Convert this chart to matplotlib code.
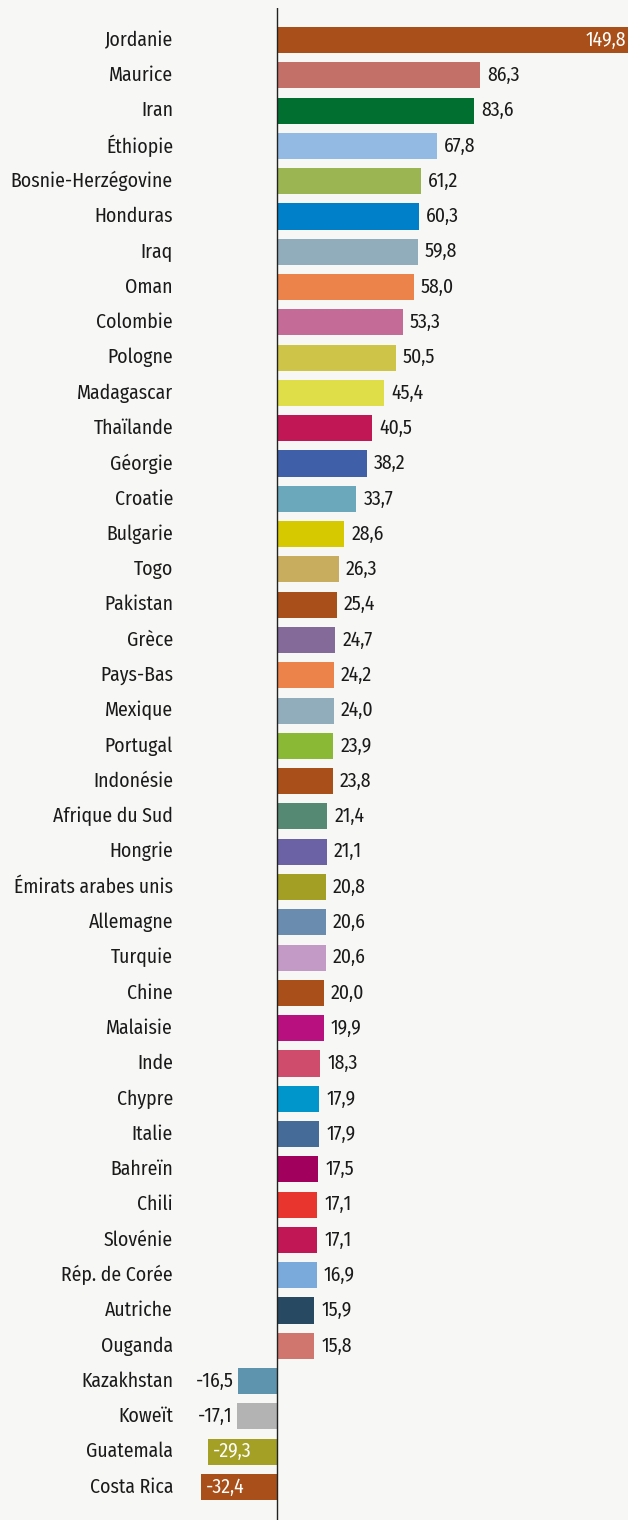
import matplotlib
matplotlib.use("Agg")
import matplotlib.pyplot as plt
from matplotlib import font_manager
import numpy as np

# ----------------------------------------------------------------------------------------------------------------------
#  DATA
# ----------------------------------------------------------------------------------------------------------------------
countries = ["Jordanie", "Maurice", "Iran", "Éthiopie", "Bosnie-Herzégovine", "Honduras", "Iraq", "Oman",
             "Colombie", "Pologne", "Madagascar", "Thaïlande", "Géorgie", "Croatie", "Bulgarie", "Togo",
             "Pakistan", "Grèce", "Pays-Bas", "Mexique", "Portugal", "Indonésie", "Afrique du Sud", "Hongrie",
             "Émirats arabes unis", "Allemagne", "Turquie", "Chine", "Malaisie", "Inde", "Chypre", "Italie",
             "Bahreïn", "Chili", "Slovénie", "Rép. de Corée", "Autriche", "Ouganda", "Kazakhstan", "Koweït",
             "Guatemala", "Costa Rica"]
values = [149.8, 86.3, 83.6, 67.8, 61.2, 60.3, 59.8, 58.0, 53.3, 50.5, 45.4, 40.5, 38.2, 33.7, 28.6, 26.3,
          25.4, 24.7, 24.2, 24.0, 23.9, 23.8, 21.4, 21.1, 20.8, 20.6, 20.6, 20.0, 19.9, 18.3, 17.9, 17.9,
          17.5, 17.1, 17.1, 16.9, 15.9, 15.8, -16.5, -17.1, -29.3, -32.4]
colors = ["#a94f19", "#c27068", "#006f2f", "#92bae3", "#9bb553", "#0080c8", "#91adbb", "#eb834a",
          "#c56b98", "#cdc448", "#dfde48", "#c21755", "#3f5fa8", "#6ba8bc", "#d6c900", "#c8ad5e",
          "#a94f19", "#836a99", "#eb834a", "#91adbb", "#8ab936", "#a94f19", "#568974", "#6b62a5",
          "#a39f25", "#6a8daf", "#c399c6", "#a94f19", "#b8107e", "#d04c6c", "#0096cc", "#456c98",
          "#a1005d", "#e8352d", "#c21755", "#7aaadc", "#274a62", "#d0766e", "#5e94ad", "#b3b3b3",
          "#a3a025", "#a94f19"]
# values written inside the bar (white)
inside = ["Jordanie", "Guatemala", "Costa Rica"]

# pick a Myriad-condensed-like sans that is installed
available = {f.name for f in font_manager.fontManager.ttflist}
wanted = ["Fira Sans Condensed", "Roboto Condensed", "Asap Condensed", "PT Sans Narrow"]
family = [f for f in wanted if f in available][:1] + ["DejaVu Sans"]
plt.rcParams['font.family'] = family

bg_color = "#f7f7f5"
fig = plt.figure(figsize=(6.28, 15.2), dpi=100, facecolor=bg_color)
ax = fig.add_axes([0, 0, 1, 1512 / 1520])
ax.set_facecolor(bg_color)

row = 35.3  # pixels per row
y = np.arange(len(countries))
ax.barh(y, values, height=0.74, color=colors, zorder=2)
ax.axvline(0, color="#222222", linewidth=1.0, zorder=3)

px = 1 / 2.355  # data units per pixel horizontally
font_size = 14.2
for i, (name, val) in enumerate(zip(countries, values)):
    ax.text(-104 * px, i, name, ha="right", va="center", fontsize=font_size, color="#1a1a1a")
    label = f"{val:.1f}".replace(".", ",")
    if name in inside:
        if val > 0:
            ax.text(val - 4 * px, i, label, ha="right", va="center", fontsize=font_size, color="white", zorder=4)
        else:
            ax.text(val + 5 * px, i, label, ha="left", va="center", fontsize=font_size, color="white", zorder=4)
    elif val > 0:
        ax.text(val + 7 * px, i, label, ha="left", va="center", fontsize=font_size, color="#1a1a1a")
    else:
        ax.text(val - 4 * px, i, label, ha="right", va="center", fontsize=font_size, color="#1a1a1a")

ax.set_xlim(-277 * px, 351 * px)
ax.set_ylim(41 + 33 / row, -32 / row)
ax.axis("off")

fig.savefig("out.png", dpi=100, facecolor=bg_color)
